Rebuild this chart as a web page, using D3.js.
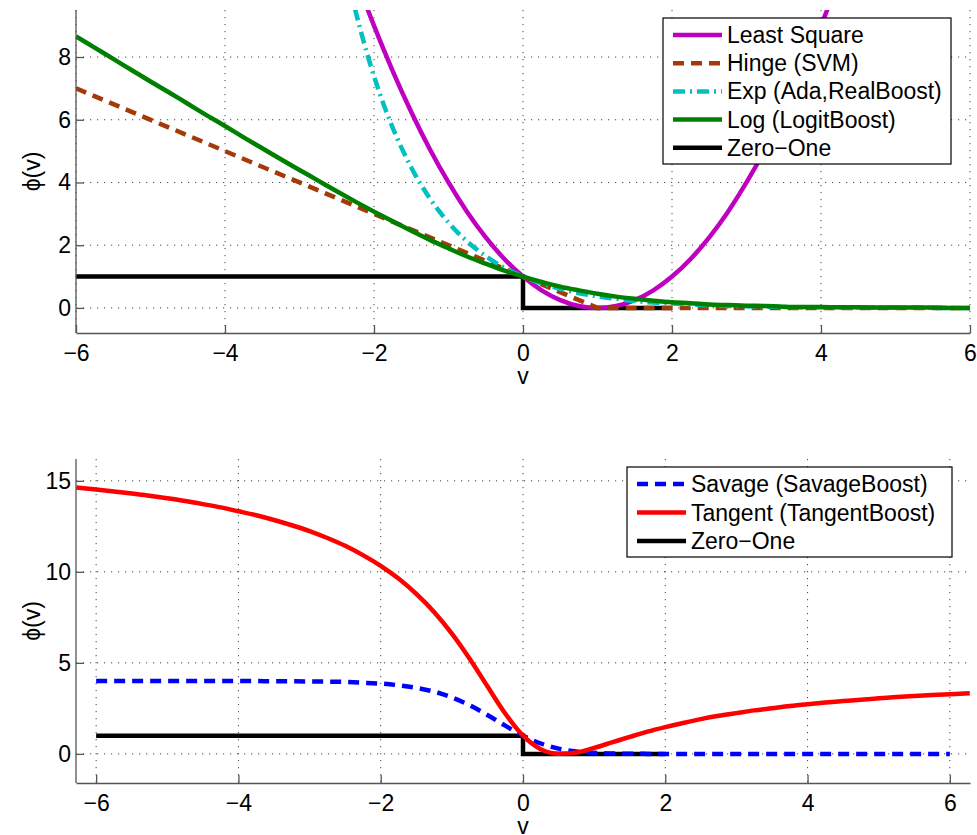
<!DOCTYPE html>
<html lang="en">
<head>
<meta charset="utf-8">
<script src="https://cdn.jsdelivr.net/npm/d3@7"></script>
<style>
body{margin:0;background:#fff;}
svg{display:block;font-family:"Liberation Sans",Arial,Helvetica,sans-serif;}
.axis text{font-size:23px;fill:#000;}
.axis path,.axis line{stroke:#555;stroke-width:1.3;}
.grid line{stroke:#444;stroke-width:1;stroke-dasharray:1.2,5.8;}
</style>
</head>
<body>
<div id="chart"></div>
<script>
// sample points of v (shared by most curves)
const vSamples=[-6,-5.75,-5.5,-5.25,-5,-4.75,-4.5,-4.25,-4,-3.75,-3.5,-3.25,-3,-2.75,-2.5,-2.25,-2,-1.75,-1.5,-1.25,-1,-0.75,-0.5,-0.25,0,
  0.25,0.5,0.75,1,1.25,1.5,1.75,2,2.25,2.5,2.75,3,3.25,3.5,3.75,4,4.25,4.5,4.75,5,5.25,5.5,5.75,6]

// top panel
const leastSquare=[49,45.56,42.25,39.06,36,33.06,30.25,27.56,25,22.56,20.25,18.06,16,14.06,12.25,10.56,9,7.56,6.25,5.06,4,3.06,2.25,1.56,1,
  0.56,0.25,0.06,0,0.06,0.25,0.56,1,1.56,2.25,3.06,4,5.06,6.25,7.56,9,10.56,12.25,14.06,16,18.06,20.25,22.56,25]
const expLoss=[403.4,314.2,244.7,190.6,148.4,115.6,90.0,70.1,54.6,42.5,33.1,25.8,20.09,15.64,12.18,9.49,7.39,5.75,4.48,3.49,2.72,2.12,1.65,1.28,1,
  0.78,0.61,0.47,0.37,0.29,0.22,0.17,0.14,0.11,0.08,0.06,0.05,0.04,0.03,0.02,0.02,0.01,0.01,0.01,0.01,0.01,0,0,0]
const logLoss=[8.66,8.30,7.94,7.58,7.22,6.87,6.51,6.15,5.80,5.44,5.09,4.74,4.40,4.06,3.72,3.39,3.07,2.76,2.46,2.17,1.90,1.64,1.41,1.19,1,
  0.83,0.68,0.56,0.45,0.36,0.29,0.23,0.18,0.15,0.11,0.09,0.07,0.06,0.04,0.03,0.03,0.02,0.02,0.01,0.01,0.01,0.01,0,0]
const hingeV=[-6,1,6]
const hingeLoss=[7,0,0]
const zeroOneV=[-6,0,0,2]
const zeroOne=[1,1,0,0]

// bottom panel
const savageLoss=[4,4,4,4,4,4,4,4,4,4,3.99,3.99,3.98,3.97,3.95,3.91,3.86,3.77,3.63,3.42,3.10,2.67,2.14,1.55,1,
  0.57,0.29,0.13,0.06,0.02,0.01,0,0,0,0,0,0,0,0,0,0,0,0,0,0,0,0,0,0]
const tangentV=[-6.28].concat(vSamples,[6.28])
const tangentLoss=[14.64,14.53,14.42,14.30,14.18,14.04,13.89,13.72,13.54,13.33,13.11,12.85,12.56,12.24,11.86,11.43,10.92,10.33,9.63,8.79,7.80,6.61,5.23,3.71,2.22,1,
  0.26,0.01,0.08,0.33,0.63,0.93,1.22,1.47,1.70,1.91,2.09,2.24,2.39,2.51,2.63,2.73,2.82,2.90,2.98,3.05,3.12,3.18,3.23,3.28,3.33]

const xTicks=[-6,-4,-2,0,2,4,6]
const yTicksTop=[0,2,4,6,8]
const yTicksBottom=[0,5,10,15]

const W=977,H=835
const svg=d3.select("#chart").append("svg").attr("width",W).attr("height",H)
svg.append("rect").attr("width",W).attr("height",H).attr("fill","#fff")

const pairs=(xs,ys)=>xs.map((x,i)=>[x,ys[i]])

function drawPanel(p){
  const x=d3.scaleLinear().domain(p.xDomain).range([76,970])
  const y=d3.scaleLinear().domain(p.yDomain).range([p.bottom,p.top])
  const g=svg.append("g")

  // grid
  const grid=g.append("g").attr("class","grid")
  grid.selectAll(".gv").data(xTicks).join("line").attr("class","gv")
    .attr("x1",d=>x(d)).attr("x2",d=>x(d)).attr("y1",p.top).attr("y2",p.bottom)
  grid.selectAll(".gh").data(p.yTicks).join("line").attr("class","gh")
    .attr("y1",d=>y(d)).attr("y2",d=>y(d)).attr("x1",76).attr("x2",970)

  const clipId="clip"+p.id
  g.append("clipPath").attr("id",clipId).append("rect")
    .attr("x",76).attr("y",p.top).attr("width",970-76).attr("height",p.bottom-p.top)

  const line=d3.line().x(d=>x(d[0])).y(d=>y(d[1])).curve(d3.curveMonotoneX)
  const straight=d3.line().x(d=>x(d[0])).y(d=>y(d[1]))
  const lines=g.append("g").attr("clip-path","url(#"+clipId+")")
  p.series.forEach(s=>{
    lines.append("path").attr("d",(s.smooth?line:straight)(pairs(s.v,s.y)))
      .attr("fill","none").attr("stroke",s.color).attr("stroke-width",4.5)
      .attr("stroke-dasharray",s.dash||null)
  })

  // axes (ticks inside like matlab)
  g.append("g").attr("class","axis").attr("transform","translate(0,"+p.bottom+")")
    .call(d3.axisBottom(x).tickValues(xTicks).tickSizeInner(-8).tickSizeOuter(0).tickPadding(11.5).tickFormat(d3.format("d")))
  g.append("g").attr("class","axis").attr("transform","translate(76,0)")
    .call(d3.axisLeft(y).tickValues(p.yTicks).tickSizeInner(-8).tickSizeOuter(0).tickPadding(5).tickFormat(d3.format("d")))
    .call(a=>a.select(".domain").attr("d","M0,"+p.top+"V"+p.bottom))

  g.append("text").attr("x",x(0)).attr("y",p.bottom+51).attr("text-anchor","middle")
    .style("font-size","23px").text("v")
  g.append("text").attr("transform","translate(40,"+((p.top+p.bottom)/2)+") rotate(-90)")
    .attr("text-anchor","middle").style("font-size","23px").text("ϕ(v)")

  // legend
  const L=p.legend
  const lg=g.append("g")
  lg.append("rect").attr("x",L.x).attr("y",L.y).attr("width",L.w).attr("height",L.h)
    .attr("fill","#fff").attr("stroke","#000").attr("stroke-width",1.2)
  L.items.forEach((s,i)=>{
    const cy=L.y+L.first+i*L.step
    lg.append("line").attr("x1",L.x+10).attr("x2",L.x+59).attr("y1",cy).attr("y2",cy)
      .attr("stroke",s.color).attr("stroke-width",4.5).attr("stroke-dasharray",s.dash||null)
    lg.append("text").attr("x",L.x+64).attr("y",cy+8).style("font-size","23px").text(s.name)
  })
}

const lsq={name:"Least Square",v:vSamples,y:leastSquare,color:"#c000c0",smooth:true}
const hinge={name:"Hinge (SVM)",v:hingeV,y:hingeLoss,color:"#a33a08",dash:"11,7"}
const ex={name:"Exp (Ada,RealBoost)",v:vSamples,y:expLoss,color:"#00c0c0",dash:"12,5,2,5",smooth:true}
const lg2={name:"Log (LogitBoost)",v:vSamples,y:logLoss,color:"#008000",smooth:true}
const zo={name:"Zero\u2212One",v:zeroOneV,y:zeroOne,color:"#000"}
const sav={name:"Savage (SavageBoost)",v:vSamples,y:savageLoss,color:"#0000ff",dash:"11,7",smooth:true}
const tan={name:"Tangent (TangentBoost)",v:tangentV,y:tangentLoss,color:"#ff0000",smooth:true}

drawPanel({id:"top",xDomain:[-6,6],yDomain:[-0.8,9.5],top:10,bottom:333,yTicks:yTicksTop,
  series:[zo,lsq,hinge,ex,lg2],
  legend:{x:663,y:18,w:288,h:146,first:17,step:28.2,items:[lsq,hinge,ex,lg2,zo]}})
drawPanel({id:"bot",xDomain:[-6.2832,6.2832],yDomain:[-1.6,16.2],top:459,bottom:783,yTicks:yTicksBottom,
  series:[zo,sav,tan],
  legend:{x:627,y:467,w:325,h:90,first:17,step:28.5,items:[sav,tan,zo]}})
</script>
</body>
</html>
